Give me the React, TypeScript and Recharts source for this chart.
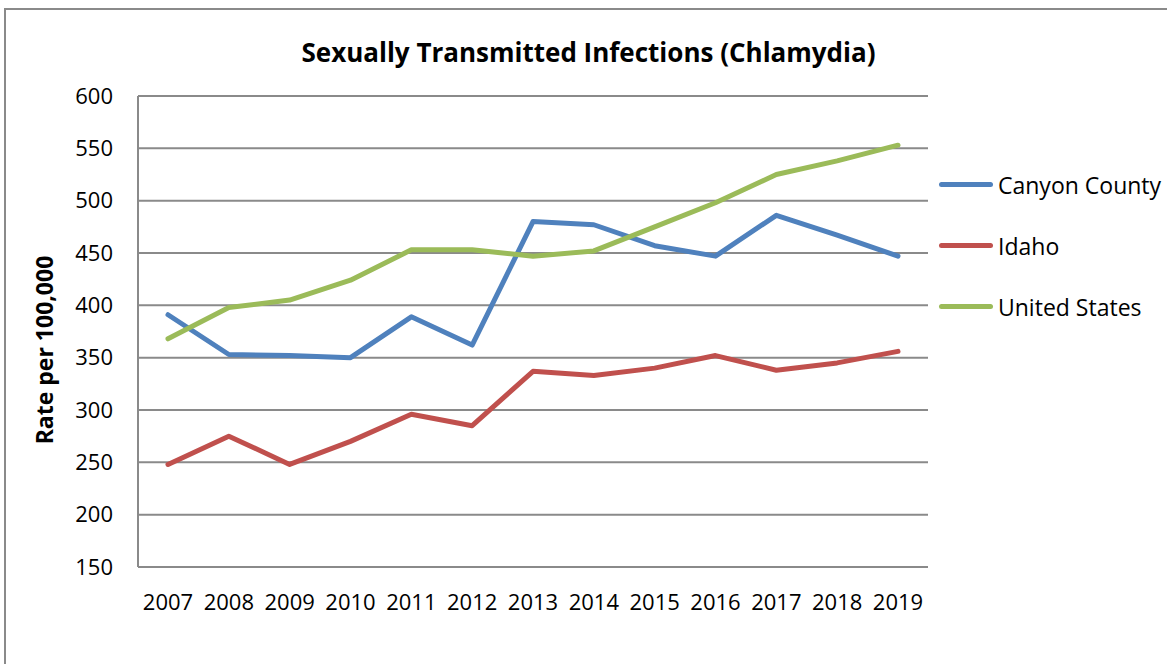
import React from 'react';
import { LineChart, Line, XAxis, YAxis, CartesianGrid } from 'recharts';

const years = ['2007', '2008', '2009', '2010', '2011', '2012', '2013', '2014', '2015', '2016', '2017', '2018', '2019'];
const canyonCounty = [391, 353, 352, 350, 389, 362, 480, 477, 457, 447, 486, 467, 447];
const idaho = [248, 275, 248, 270, 296, 285, 337, 333, 340, 352, 338, 345, 356];
const unitedStates = [368, 398, 405, 424, 453, 453, 447, 452, 475, 498, 525, 538, 553];
const yTicks = [150, 200, 250, 300, 350, 400, 450, 500, 550, 600];

const seriesNames = ['Canyon County', 'Idaho', 'United States'];
const colors = ['#4F81BD', '#C0504D', '#9BBB59'];

const data = years.map((y, i) => ({
  year: y,
  'Canyon County': canyonCounty[i],
  Idaho: idaho[i],
  'United States': unitedStates[i],
}));

const FONT = "'Open Sans', 'Liberation Sans', sans-serif";

export default function App() {
  return (
    <div style={{ position: 'absolute', left: 0, top: 0, width: 1167, height: 664, overflow: 'hidden', background: '#fff' }}>
      <div style={{ position: 'absolute', left: 4, top: 8, width: 1300, height: 800, border: '2px solid #8a8a8a' }} />
      <div style={{ position: 'absolute', left: 0, top: 0 }}>
        <LineChart width={1167} height={664} data={data} margin={{ top: 96, right: 239, bottom: 57, left: 78 }}>
          <CartesianGrid vertical={false} stroke="#8a8a8a" strokeWidth={2} />
          <XAxis
            dataKey="year"
            height={40}
            tickSize={0}
            tickMargin={27}
            padding={{ left: 30, right: 30 }}
            axisLine={{ stroke: '#8a8a8a', strokeWidth: 2 }}
            tick={{ fill: '#000', fontSize: 22, fontFamily: FONT }}
            interval={0}
          />
          <YAxis
            width={60}
            domain={[150, 600]}
            ticks={yTicks}
            tickSize={0}
            tickMargin={25}
            axisLine={{ stroke: '#8a8a8a', strokeWidth: 2 }}
            tick={{ fill: '#000', fontSize: 22, fontFamily: FONT }}
            interval={0}
          />
          {seriesNames.map((n, i) => (
            <Line
              key={n}
              type="linear"
              dataKey={n}
              stroke={colors[i]}
              strokeWidth={5}
              strokeLinecap="round"
              strokeLinejoin="round"
              dot={false}
              activeDot={false}
              isAnimationActive={false}
            />
          ))}
        </LineChart>
      </div>
      <div style={{ position: 'absolute', left: 939, top: 154, fontFamily: FONT, fontSize: 23, color: '#000' }}>
        {seriesNames.map((n, i) => (
          <div key={n} style={{ display: 'flex', alignItems: 'center', height: 61, whiteSpace: 'nowrap' }}>
            <div style={{ width: 54, height: 5, borderRadius: 3, background: colors[i], marginRight: 5 }} />
            <span>{n}</span>
          </div>
        ))}
      </div>
      <div style={{ position: 'absolute', left: 0, width: 1177, top: 52, transform: 'translateY(-50%)', textAlign: 'center', fontFamily: FONT, fontWeight: 700, fontSize: 26, color: '#000' }}>
        Sexually Transmitted Infections (Chlamydia)
      </div>
      <div style={{ position: 'absolute', left: 44, top: 350, transform: 'translate(-50%, -50%) rotate(-90deg)', whiteSpace: 'nowrap', fontFamily: FONT, fontWeight: 700, fontSize: 23, color: '#000' }}>
        Rate per 100,000
      </div>
    </div>
  );
}
